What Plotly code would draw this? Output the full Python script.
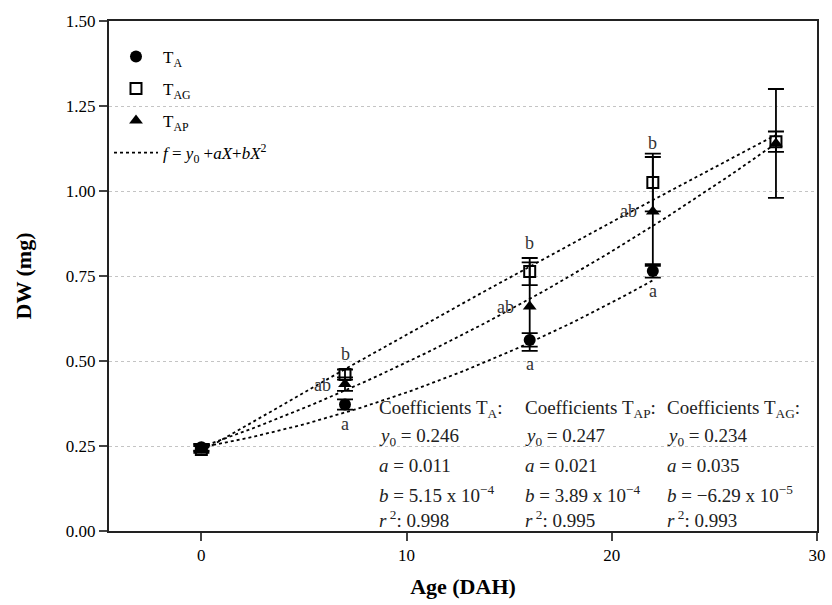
import plotly.graph_objects as go
import numpy as np

# Data
age = [0, 7, 16, 22, 28]
ta_age = [0, 7, 16, 22]
ta_dw = [0.246, 0.372, 0.562, 0.765]
ta_err = [0.010, 0.015, 0.020, 0.020]
tag_dw = [0.240, 0.460, 0.763, 1.025, 1.145]
tag_err = [0.010, 0.015, 0.040, 0.085, 0.030]
tap_dw = [0.245, 0.432, 0.660, 0.940, 1.140]
tap_err = [0.010, 0.020, 0.130, 0.160, 0.160]

# Fit coefficients (y0, a, b)
coef_ta = [0.246, 0.011, 5.15e-4]
coef_tap = [0.247, 0.021, 3.89e-4]
coef_tag = [0.234, 0.035, -6.29e-5]
fit_end = {"ta": 22, "tap": 28, "tag": 28}

# Significance letters (x, y, text)
letters_x = [7, 5.9, 7, 16, 14.8, 16, 22, 20.8, 22]
letters_y = [0.52, 0.43, 0.315, 0.848, 0.66, 0.49, 1.14, 0.94, 0.705]
letters_t = ["b", "ab", "a", "b", "ab", "a", "b", "ab", "a"]

FONT = "Liberation Serif"

fig = go.Figure()

def fit_curve(c, xend):
    xs = np.linspace(0, xend, 60)
    return xs, c[0] + c[1] * xs + c[2] * xs ** 2

for key, c in [("ta", coef_ta), ("tap", coef_tap), ("tag", coef_tag)]:
    xs, ys = fit_curve(c, fit_end[key])
    fig.add_trace(go.Scatter(x=xs, y=ys, mode="lines",
                             line=dict(color="black", width=1.8, dash="dot"),
                             showlegend=False, hoverinfo="skip"))

eb = dict(type="data", thickness=1.8, width=8, color="black")

fig.add_trace(go.Scatter(x=ta_age, y=ta_dw, mode="markers", name="T<sub>A</sub>",
                         marker=dict(symbol="circle", size=12, color="black"),
                         error_y=dict(array=ta_err, **eb), legendgroup="a"))
fig.add_trace(go.Scatter(x=age, y=tag_dw, mode="markers", name="T<sub>AG</sub>",
                         marker=dict(symbol="square-open", size=11, color="black",
                                     line=dict(width=2, color="black")),
                         error_y=dict(array=tag_err, **eb), legendgroup="b"))
fig.add_trace(go.Scatter(x=age, y=tap_dw, mode="markers", name="T<sub>AP</sub>",
                         marker=dict(symbol="triangle-up", size=12, color="black"),
                         error_y=dict(array=tap_err, **eb), legendgroup="c"))
fig.add_trace(go.Scatter(x=[None], y=[None], mode="lines",
                         name="<i>f</i> = <i>y</i><sub>0</sub> +<i>aX</i>+<i>bX</i><sup>2</sup>",
                         line=dict(color="black", width=1.8, dash="dot"), legendgroup="d"))

for x, y, t in zip(letters_x, letters_y, letters_t):
    fig.add_annotation(x=x, y=y, text=t, showarrow=False, xref="x", yref="y",
                       font=dict(family=FONT, size=18, color="#333"))

cols = [
    (8.55, "T<sub>A</sub>", coef_ta, "5.15 x 10<sup>−4</sup>", "0.998"),
    (15.67, "T<sub>AP</sub>", coef_tap, "3.89 x 10<sup>−4</sup>", "0.995"),
    (22.6, "T<sub>AG</sub>", coef_tag, "−6.29 x 10<sup>−5</sup>", "0.993"),
]
rows_y = [0.36, 0.276, 0.194, 0.11, 0.036]
for cx, name, c, btxt, r2 in cols:
    lines = [f"Coefficients {name}:",
             f"<i>y</i><sub>0</sub> = {c[0]:.3f}",
             f"<i>a</i> = {c[1]:.3f}",
             f"<i>b</i> = {btxt}",
             f"<i>r</i><sup> 2</sup>: {r2}"]
    for ly, txt in zip(rows_y, lines):
        fig.add_annotation(x=cx, y=ly, text=txt, showarrow=False, xref="x", yref="y",
                           xanchor="left", yanchor="middle",
                           font=dict(family=FONT, size=19, color="#222"))

fig.update_layout(
    width=832, height=605,
    margin=dict(l=109, r=15, t=21, b=74),
    paper_bgcolor="white", plot_bgcolor="white",
    font=dict(family=FONT, size=17, color="black"),
    legend=dict(x=0.0, y=0.965, xanchor="left", yanchor="top", itemwidth=44,
                bgcolor="rgba(0,0,0,0)", font=dict(family=FONT, size=17),
                tracegroupgap=7),
    showlegend=True,
)
fig.update_xaxes(range=[-4.5, 30], tickvals=[0, 10, 20, 30], ticks="outside",
                 ticklen=8, tickwidth=2, showline=True, linewidth=2, linecolor="#222",
                 mirror=True, showgrid=False, zeroline=False, automargin=False,
                 title=dict(text="<b>Age (DAH)</b>", font=dict(family=FONT, size=22), standoff=14),
                 tickfont=dict(family=FONT, size=17))
fig.update_yaxes(range=[0, 1.5], tickvals=[0, 0.25, 0.5, 0.75, 1.0, 1.25, 1.5],
                 tickformat=".2f", ticks="outside", ticklen=8, tickwidth=2,
                 showline=True, linewidth=2, linecolor="#222", mirror=True,
                 showgrid=True, gridcolor="#c4c4c4", griddash="dot", gridwidth=1.2,
                 zeroline=False, automargin=False,
                 title=dict(text="<b>DW (mg)</b>", font=dict(family=FONT, size=22), standoff=28),
                 tickfont=dict(family=FONT, size=17))

fig.write_html("out.html")
